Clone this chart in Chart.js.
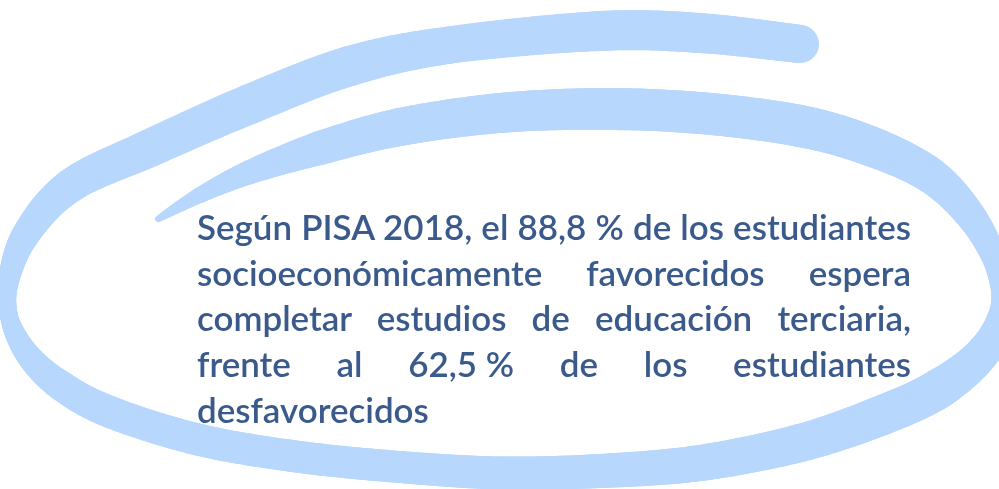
<!DOCTYPE html>
<html lang="es">
<head>
<meta charset="utf-8">
<title>PISA 2018 - expectativas de educación terciaria</title>
<script src="https://cdn.jsdelivr.net/npm/chart.js@4.4.1/dist/chart.umd.min.js"></script>
<style>
  html, body { margin: 0; padding: 0; background: #ffffff; }
  #wrap { position: relative; width: 999px; height: 489px; overflow: hidden; }
  #grafico { position: absolute; left: 0; top: 0; }
  #texto {
    position: absolute; left: 197px; top: 204px; width: 714px;
    font-family: "Lato", "Noto Sans", sans-serif; font-weight: 600; color: #3a5a8c;
    line-height: 45.7px;
  }
  #texto div { text-align: justify; text-align-last: justify; }
  #texto div.ultima { text-align: left; text-align-last: left; }
</style>
</head>
<body>
<div id="wrap">
  <canvas id="grafico" width="999" height="489"></canvas>
  <div id="texto"></div>
</div>
<script>
// Datos (PISA 2018)
const anio = 2018;
const categorias = ["favorecidos", "desfavorecidos"];
const valores = [88.8, 62.5]; // % que espera completar estudios terciarios

// trazo a mano alzada que rodea el texto (decoración): x, y, grosor
const trazo = [
  [800, 44, 38], [700, 33, 40], [600, 31, 40], [450, 45, 37], [350, 66, 40],
  [250, 104, 40], [150, 148, 38], [70, 186, 34], [25, 236, 28], [8, 285, 20],
  [10, 320, 18], [28, 355, 24], [60, 385, 30], [110, 412, 32], [200, 440, 32],
  [300, 457, 32], [400, 467, 32], [500, 473, 33], [600, 471, 34], [700, 463, 36],
  [800, 443, 38], [880, 416, 40], [940, 388, 40], [985, 350, 34], [1004, 305, 26],
  [995, 260, 24], [970, 215, 30], [930, 175, 36], [870, 146, 40], [800, 126, 42],
  [700, 113, 42], [600, 109, 42], [500, 113, 40], [400, 127, 38], [320, 148, 34],
  [250, 172, 24], [200, 195, 16], [158, 219, 6]
];

const fmt = v => v.toFixed(1).replace(".", ",");

// texto justificado, construido a partir de los datos
const lineas = [
  `Según PISA ${anio}, el ${fmt(valores[0])} % de los estudiantes`,
  `socioeconómicamente ${categorias[0]} espera`,
  "completar estudios de educación terciaria,",
  `frente al ${fmt(valores[1])}\u202F% de los estudiantes`,
  categorias[1]
];

const caja = document.getElementById("texto");
// ajusta el tamaño de letra para que la primera línea ocupe el ancho del bloque
const medidor = document.createElement("canvas").getContext("2d");
medidor.font = '600 100px "Lato"';
const ancho100 = medidor.measureText(lineas[0]).width;
const tam = Math.min(36, 100 * 712 / ancho100);
caja.style.fontSize = tam.toFixed(2) + "px";
lineas.forEach((t, i) => {
  const d = document.createElement("div");
  d.textContent = t;
  if (i === lineas.length - 1) d.className = "ultima";
  caja.appendChild(d);
});

// plugin que pinta el trazo azul con grosor variable (Catmull-Rom)
const pluginTrazo = {
  id: "trazo",
  beforeDraw(chart) {
    const ctx = chart.ctx;
    const sx = chart.width / 999, sy = chart.height / 489;
    ctx.save();
    ctx.strokeStyle = "#b8d7fd";
    ctx.lineCap = "round";
    ctx.lineJoin = "round";
    const n = trazo.length;
    let prev = null;
    for (let i = 0; i < n - 1; i++) {
      const p0 = trazo[Math.max(i - 1, 0)], p1 = trazo[i];
      const p2 = trazo[i + 1], p3 = trazo[Math.min(i + 2, n - 1)];
      for (let k = 0; k <= 20; k++) {
        const t = k / 20, t2 = t * t, t3 = t2 * t;
        const cr = j => 0.5 * ((2 * p1[j]) + (-p0[j] + p2[j]) * t +
          (2 * p0[j] - 5 * p1[j] + 4 * p2[j] - p3[j]) * t2 +
          (-p0[j] + 3 * p1[j] - 3 * p2[j] + p3[j]) * t3);
        const pt = [cr(0) * sx, cr(1) * sy, p1[2] + (p2[2] - p1[2]) * t];
        if (prev) {
          ctx.beginPath();
          ctx.lineWidth = pt[2];
          ctx.moveTo(prev[0], prev[1]);
          ctx.lineTo(pt[0], pt[1]);
          ctx.stroke();
        }
        prev = pt;
      }
    }
    ctx.restore();
  }
};

const ctx = document.getElementById("grafico").getContext("2d");
new Chart(ctx, {
  type: "bar",
  data: {
    labels: categorias,
    datasets: [{
      label: "Espera completar educación terciaria (%)",
      data: valores,
      hidden: true // la imagen no muestra barras, solo el texto
    }]
  },
  options: {
    responsive: false,
    animation: false,
    layout: { padding: 0 },
    scales: { x: { display: false }, y: { display: false, min: 0, max: 100 } },
    plugins: { legend: { display: false }, tooltip: { enabled: false } }
  },
  plugins: [pluginTrazo]
});
</script>
</body>
</html>
